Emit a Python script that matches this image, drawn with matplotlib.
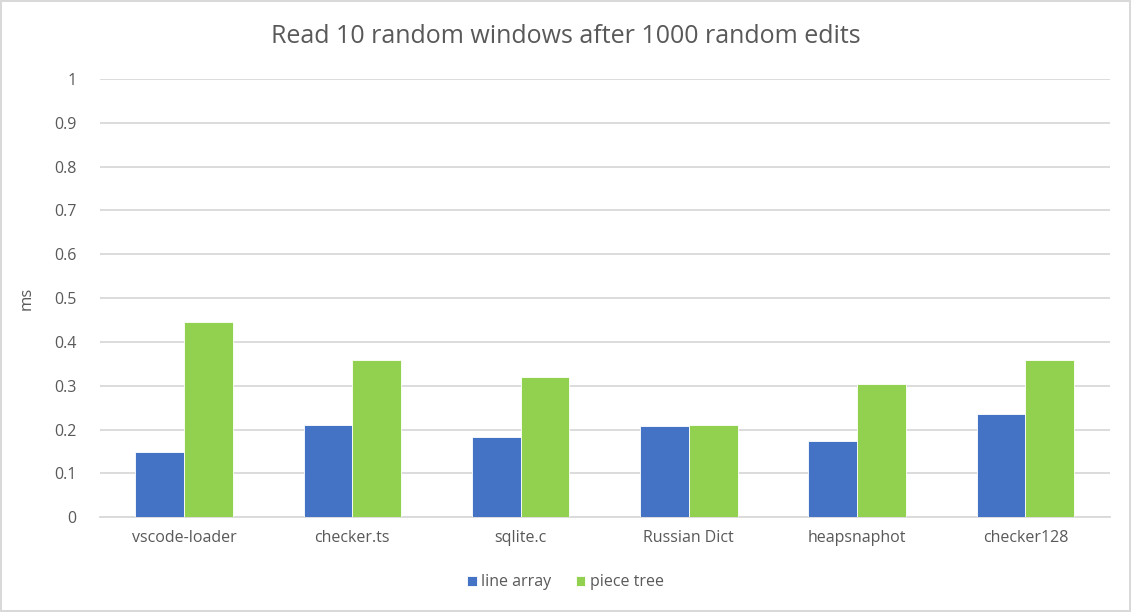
import matplotlib.pyplot as plt
import numpy as np

categories = ["vscode-loader", "checker.ts", "sqlite.c", "Russian Dict", "heapsnaphot", "checker128"]
line_array = [0.149, 0.210, 0.183, 0.208, 0.173, 0.235]
piece_tree = [0.446, 0.359, 0.320, 0.210, 0.304, 0.359]
y_ticks = [0, 0.1, 0.2, 0.3, 0.4, 0.5, 0.6, 0.7, 0.8, 0.9, 1]

plt.rcParams['font.family'] = ['Open Sans', 'DejaVu Sans']
text_color = "#595959"

fig = plt.figure(figsize=(11.31, 6.12), dpi=100)
fig.patch.set_edgecolor("#d9d9d9")
fig.patch.set_linewidth(1.5)
ax = fig.add_axes([0.0884, 0.155, 0.8926, 0.716])

x = np.arange(len(categories))
w = 0.29
ax.bar(x - w / 2, line_array, w, color="#4472c4", edgecolor="white", linewidth=0.6, label="line array", zorder=3)
ax.bar(x + w / 2, piece_tree, w, color="#92d050", edgecolor="white", linewidth=0.6, label="piece tree", zorder=3)

ax.set_xlim(-0.5, len(categories) - 0.5)
ax.set_ylim(0, 1)
ax.set_yticks(y_ticks)
ax.set_yticklabels([f"{t:g}" for t in y_ticks])
ax.set_xticks(x)
ax.set_xticklabels(categories)
ax.tick_params(axis="both", length=0, labelsize=11.5, colors=text_color)
ax.tick_params(axis="x", pad=9)
ax.tick_params(axis="y", pad=17)
ax.grid(axis="y", color="#d9d9d9", linewidth=1.3, zorder=0)
for s in ["top", "right", "left"]:
    ax.spines[s].set_visible(False)
ax.spines["bottom"].set_color("#d9d9d9")
ax.spines["bottom"].set_linewidth(1.3)

ax.set_ylabel("ms", fontsize=12, color=text_color, labelpad=14)
fig.suptitle("Read 10 random windows after 1000 random edits", fontsize=18, color=text_color, y=0.96)

fig.legend(loc="lower center", bbox_to_anchor=(0.5, 0.012), ncol=2, frameon=False,
           fontsize=11.5, labelcolor=text_color, handlelength=0.6, handleheight=0.6,
           handletextpad=0.3, columnspacing=1.5)

fig.savefig("out.png", dpi=100)
